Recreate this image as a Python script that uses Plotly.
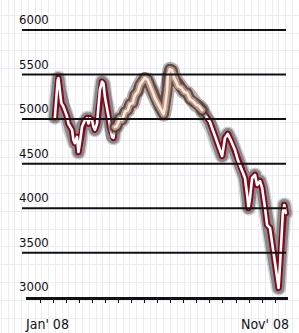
import plotly.graph_objects as go

# ---- data (day of 2008, index level) ----
days_a = [11, 13, 15, 16, 18, 20, 23, 25, 28, 30, 32, 35, 37, 39, 42, 44, 46, 49, 51, 53,
          56, 58, 60, 63, 65, 67, 70, 72, 74, 77, 79, 81, 84, 86, 88, 91, 93, 95]
vals_a = [5020, 5270, 5440, 5460, 5330, 5180, 5140, 5100, 5030, 4950, 4915, 4880, 4765, 4730,
          4800, 4630, 4730, 4915, 4950, 4990, 5010, 4950, 5010, 4990, 4915, 4880, 4950, 5140,
          5330, 5420, 5400, 5250, 5140, 5030, 4915, 4800, 4790, 4910]

days_b = [95, 98, 102, 105, 109, 113, 116, 120, 123, 127, 130, 134, 137, 141, 144, 147, 151,
          155, 158, 163, 165, 168, 169, 172, 175, 178, 181, 183, 188, 192, 196, 200, 204, 209,
          213, 217]
vals_b = [4910, 4925, 5010, 4990, 5080, 5100, 5170, 5180, 5270, 5305, 5385, 5440, 5465, 5440,
          5370, 5325, 5235, 5170, 5125, 5055, 5125, 5325, 5485, 5560, 5550, 5460, 5415, 5370,
          5350, 5305, 5295, 5225, 5205, 5160, 5145, 5100]

days_c = [217, 220, 224, 228, 232, 237, 241, 245, 249, 253, 257, 263, 267, 273, 277, 280, 282,
          284, 287, 291, 294, 298, 301, 305, 308, 312, 315, 319, 322, 324, 326, 329, 330, 332, 334]
vals_c = [5100, 5068, 5012, 4967, 4878, 4743, 4653, 4586, 4788, 4833, 4765, 4653, 4541, 4429,
          4339, 4148, 4002, 4114, 4339, 4373, 4260, 4305, 4227, 4002, 3811, 3778, 3621, 3363,
          3217, 3104, 3363, 3733, 3957, 4036, 3946]

y_ticks = [3000, 3500, 4000, 4500, 5000, 5500, 6000]
y_tick_labels = ["3000", "3500", "4000", "4500", "5000", "5500", "6000"]
x_label_days = [0, 305]
x_labels = ["Jan' 08", "Nov' 08"]
x_tick_days = [-9.8, 8.5, 26.8, 45.1, 63.4, 81.6, 99.9, 118.2, 136.5, 154.8, 173.1, 191.4,
               209.6, 227.9, 246.2, 264.5, 282.8, 301.1, 319.4]

FONT = "Liberation Sans Narrow, Arial Narrow, DejaVu Sans Condensed, sans-serif"
W, H = 299, 333


def px_to_day(px):
    return (px - 47) * 305 / 218


def py_to_val(py):
    return 3000 + (297.3 - py) * 3000 / 267.3


fig = go.Figure()

# background "graph paper" subplot (x / y)
fig.add_trace(go.Scatter(x=[], y=[], xaxis="x", yaxis="y", showlegend=False, hoverinfo="skip"))

red_style = [(15, "rgba(150,150,150,0.45)"), (12, "rgba(120,120,120,0.8)"),
             (6.5, "#7f0a1e"), (2.6, "#ffffff")]
brown_style = [(15, "rgba(100,80,75,0.45)"), (11, "rgba(80,60,55,0.85)"),
               (6.5, "#bb9380"), (2.6, "#f5e8de")]

segments = [(days_a, vals_a, red_style), (days_c, vals_c, red_style), (days_b, vals_b, brown_style)]
for dx, vy, style in segments:
    for w, c in style:
        fig.add_trace(go.Scatter(x=dx, y=vy, mode="lines", xaxis="x2", yaxis="y2",
                                 line=dict(color=c, width=w),
                                 hoverinfo="skip", showlegend=False))

# bottom axis with tick marks (x3 anchored to the data y axis)
fig.add_trace(go.Scatter(x=[], y=[], xaxis="x3", yaxis="y2", showlegend=False, hoverinfo="skip"))

shapes = []
for v in y_ticks[1:]:
    shapes.append(dict(type="line", xref="paper", yref="y2", x0=22 / W, x1=286 / W, y0=v, y1=v,
                       line=dict(color="#111111", width=2)))

annotations = []
for v, t in zip(y_ticks, y_tick_labels):
    annotations.append(dict(text=t, x=17 / W, xref="paper", xanchor="left", y=v, yref="y2",
                            yanchor="bottom", yshift=1, showarrow=False,
                            font=dict(family=FONT, size=13, color="#111111")))
for d, t in zip(x_label_days, x_labels):
    annotations.append(dict(text=t, x=d, xref="x2", xanchor="center", y=1 - 324 / H,
                            yref="paper", yanchor="middle", showarrow=False,
                            font=dict(family=FONT, size=14, color="#111111")))

fig.update_layout(
    width=W, height=H, margin=dict(l=0, r=0, t=0, b=0),
    paper_bgcolor="white", plot_bgcolor="rgba(0,0,0,0)",
    xaxis=dict(domain=[0, 1], range=[px_to_day(0), px_to_day(W)], showgrid=True,
               gridcolor="#ececf7", gridwidth=1, tick0=191.7, dtick=9.47,
               showticklabels=False, zeroline=False, showline=False, ticks="", anchor="y"),
    yaxis=dict(domain=[0, 1], range=[py_to_val(H), py_to_val(0)], showgrid=True,
               gridcolor="#ececf7", gridwidth=1, tick0=3165, dtick=200,
               showticklabels=False, zeroline=False, showline=False, ticks="", anchor="x"),
    xaxis2=dict(domain=[0, 1], range=[px_to_day(0), px_to_day(W)], anchor="y2",
                showgrid=False, showticklabels=False, zeroline=False, showline=False, ticks=""),
    yaxis2=dict(domain=[1 - 297.3 / H, 1], range=[3000, py_to_val(0)], anchor="x2",
                showgrid=False, showticklabels=False, zeroline=False, showline=False, ticks=""),
    xaxis3=dict(domain=[26 / W, 288 / W], anchor="y2", range=[px_to_day(26), px_to_day(288)],
                showline=True, linecolor="#111111", linewidth=2.5, ticks="outside",
                ticklen=3, tickwidth=1.2, tickcolor="#111111", tickmode="array",
                tickvals=x_tick_days, showticklabels=False, showgrid=False, zeroline=False),
    shapes=shapes, annotations=annotations,
)

post = ("document.body.style.margin='0';"
        "document.querySelectorAll('.js-line').forEach(function(p){"
        "p.style.strokeLinejoin='round';p.style.strokeLinecap='round';});")
fig.write_html("out.html", post_script=post, config={"displayModeBar": False})
